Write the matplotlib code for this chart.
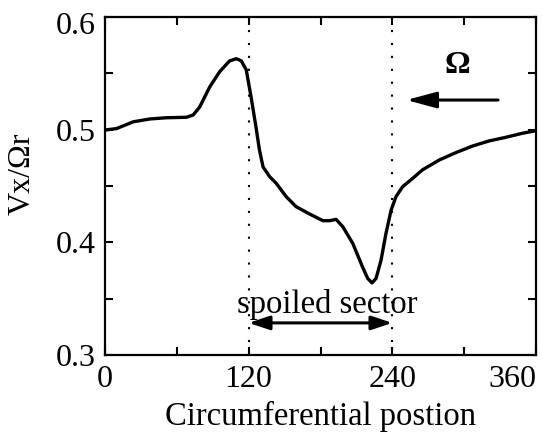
import matplotlib.pyplot as plt
import matplotlib.transforms as mtransforms
from matplotlib.ticker import MultipleLocator

plt.rcParams['font.family'] = ['Liberation Serif', 'DejaVu Serif']

# circumferential position (deg) and axial velocity ratio Vx/(Omega r)
posicion = [0, 9.7, 23.6, 37.5, 51.4, 68, 73.6, 79, 87.5, 95.8, 104, 109.7,
            113.9, 118, 122, 126, 129, 132, 137.5, 143, 151.4, 159.7, 170.8,
            182, 187.5, 193, 198.6, 207, 215, 219.4, 223, 226.4, 230.6,
            234.7, 239, 243, 248.6, 257, 265, 279, 293, 307, 320.8, 334.7,
            348.6, 360]
vx = [0.4997, 0.501, 0.507, 0.5095, 0.5106, 0.511, 0.513, 0.520, 0.538,
      0.5515, 0.561, 0.563, 0.561, 0.553, 0.529, 0.503, 0.482, 0.467,
      0.4583, 0.4524, 0.4405, 0.4316, 0.4252, 0.4192, 0.4192, 0.4204,
      0.4139, 0.399, 0.3784, 0.368, 0.364, 0.368, 0.3843, 0.408, 0.4287,
      0.4405, 0.4494, 0.4568, 0.4642, 0.473, 0.4796, 0.4855, 0.490,
      0.4932, 0.4968, 0.4991]

sector = [120, 240]
xticks = [0, 120, 240, 360]
yticks = [0.3, 0.4, 0.5, 0.6]
fs = 23

fig = plt.figure(figsize=(5.43, 4.34), dpi=100)
ax = fig.add_axes([0.1934, 0.182, 0.7937, 0.7788])

ax.plot(posicion, vx, color='black', lw=2.4, solid_capstyle='round',
        solid_joinstyle='round')
for s in sector:
    ax.axvline(s, color='black', ls=(0, (1, 5.2)), lw=1.5)

# spoiled sector marker
ax.annotate('', xy=(sector[0], 0.3285), xytext=(sector[1], 0.3285),
            arrowprops=dict(arrowstyle='<|-|>,head_length=0.9,head_width=0.3',
                            color='black', lw=2.2, mutation_scale=14,
                            shrinkA=0, shrinkB=0))
ax.text(185.8, 0.3375, 'spoiled sector', fontsize=23.5, ha='center',
        va='baseline')

# rotation direction
ax.text(294, 0.5574, 'Ω', fontsize=fs, fontweight='bold', ha='center',
        va='center')
ax.annotate('', xy=(251.7, 0.5263), xytext=(328.3, 0.5263),
            arrowprops=dict(arrowstyle='-|>,head_length=1.3,head_width=0.35',
                            color='black', lw=2.2, mutation_scale=14,
                            shrinkA=0, shrinkB=0))

ax.set_xlim(0, 360)
ax.set_ylim(0.3, 0.6)
ax.set_xticks(xticks)
ax.set_yticks(yticks)
ax.set_xticklabels([str(t) for t in xticks])
ax.set_yticklabels(['%.1f' % t for t in yticks])
ax.xaxis.set_minor_locator(MultipleLocator(60))
ax.yaxis.set_minor_locator(MultipleLocator(0.05))
ax.tick_params(which='both', direction='in', top=True, right=True,
               length=6, width=1.5, labelsize=fs)
ax.tick_params(axis='x', pad=7.5)
ax.tick_params(axis='y', pad=7)
for sp in ax.spines.values():
    sp.set_linewidth(1.6)

# keep the last x label inside the figure, nudge the top y label down
ax.get_xticklabels()[-1].set_ha('right')
ax.get_xticklabels()[-1].set_x(360)
lbl = ax.get_yticklabels()[-1]
lbl.set_transform(lbl.get_transform() +
                  mtransforms.ScaledTranslation(0, -4 / 72, fig.dpi_scale_trans))

ax.set_xlabel('Circumferential postion', fontsize=23.5, labelpad=5)
ax.set_ylabel('Vx/Ωr', fontsize=fs, va='center')
ax.yaxis.set_label_coords(-0.193, 0.536)

fig.savefig('out.png')
